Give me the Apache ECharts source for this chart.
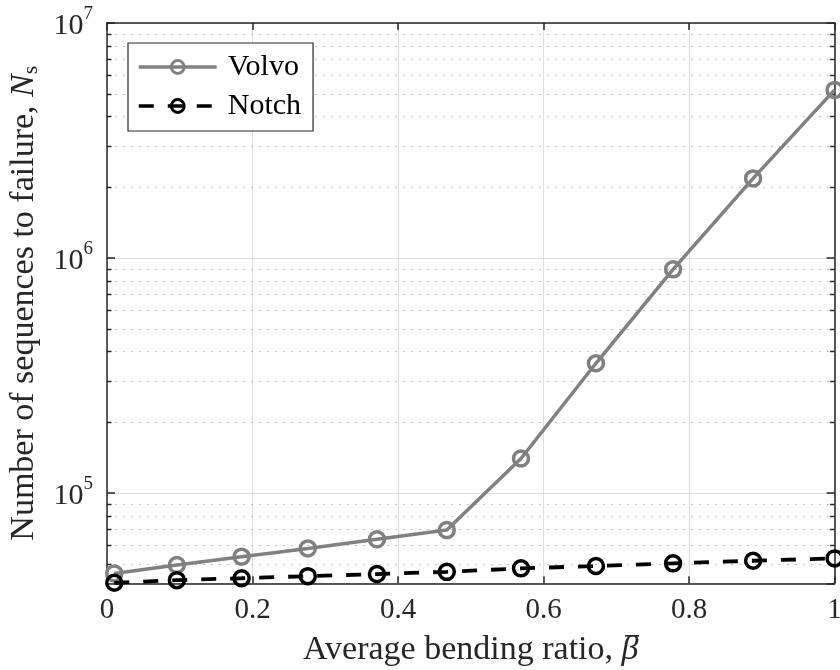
<!DOCTYPE html>
<html>
<head>
<meta charset="utf-8">
<script src="https://cdn.jsdelivr.net/npm/echarts@6/dist/echarts.min.js"></script>
<style>
html,body{margin:0;padding:0;background:#fff;overflow:hidden;}
#chart{width:840px;height:670px;}
</style>
</head>
<body>
<div id="chart"></div>
<script>
// ---- data ----
var betaValues = [0.01, 0.096, 0.185, 0.276, 0.371, 0.467, 0.569, 0.672, 0.778, 0.888, 1.0];
var volvoValues = [45400, 49300, 53500, 58000, 63400, 69400, 140000, 356000, 894000, 2180000, 5190000];
var notchValues = [41400, 42500, 43300, 44200, 45100, 46100, 47700, 48800, 50100, 51400, 52600];
var seriesNames = ['Volvo', 'Notch'];
var yMinorTicks = [50000, 60000, 70000, 80000, 90000,
  200000, 300000, 400000, 500000, 600000, 700000, 800000, 900000,
  2000000, 3000000, 4000000, 5000000, 6000000, 7000000, 8000000, 9000000];
var yMin = 41200, yMax = 10000000;
var xMin = 0, xMax = 1;

var FONT = 'Liberation Serif';
var AXC = '#262626';

function pairs(xs, ys){ return xs.map(function(x,i){ return [x, ys[i]]; }); }

// overline decoration for the beta symbol (background image of the rich token)
var barCanvas = document.createElement('canvas');
barCanvas.width = 20; barCanvas.height = 40;
(function(){ var c = barCanvas.getContext('2d'); c.fillStyle = '#262626'; c.fillRect(4, 2, 16, 2); })();
var barImage = barCanvas.toDataURL();

var chart = echarts.init(document.getElementById('chart'), null, {renderer:'canvas'});

var option = {
  animation: false,
  backgroundColor: '#fff',
  grid: {left:107, top:23, width:727.6, height:560.3, containLabel:false, outerBoundsMode:'none'},
  legend: {
    data: seriesNames,
    orient: 'vertical',
    left: 128, top: 43,
    padding: [9, 12, 10, 9],
    itemWidth: 78, itemHeight: 16, itemGap: 9,
    borderColor: AXC, borderWidth: 1.2,
    backgroundColor: '#fff',
    lineStyle: {width: 3.5},
    itemStyle: {borderWidth: 3},
    textStyle: {fontFamily: FONT, fontSize: 30, color:'#000', lineHeight: 30, padding:[0,0,0,6]}
  },
  xAxis: [{
    type:'value', min:xMin, max:xMax, interval:0.2,
    axisLine:{show:true, onZero:false, lineStyle:{color:AXC, width:1.5}},
    axisTick:{show:true, inside:true, length:7, lineStyle:{color:AXC, width:1.5}},
    axisLabel:{fontFamily:FONT, fontSize:29, color:'#262626', margin:13,
      formatter:function(v){ return String(+v.toFixed(2)); }},
    splitLine:{show:true, lineStyle:{color:'#dedede', width:1}},
    name:'Average bending ratio, {b|β}',
    nameLocation:'middle', nameGap:46,
    nameTextStyle:{fontFamily:FONT, fontSize:34, color:'#262626', lineHeight:40,
      rich:{b:{fontFamily:FONT, fontSize:34, fontStyle:'italic', color:'#262626', lineHeight:40,
        backgroundColor:{image: barImage}}}}
  },{
    type:'value', position:'top', min:xMin, max:xMax, interval:0.2,
    axisLine:{show:true, onZero:false, lineStyle:{color:AXC, width:1.5}},
    axisTick:{show:true, inside:true, length:7, lineStyle:{color:AXC, width:1.5}},
    axisLabel:{show:false}, splitLine:{show:false}
  }],
  yAxis: [{
    type:'log', logBase:10, min:yMin, max:yMax,
    axisLine:{show:true, onZero:false, lineStyle:{color:AXC, width:1.5}},
    axisTick:{show:true, inside:true, length:8, lineStyle:{color:AXC, width:1.5}},
    axisLabel:{showMinLabel:false, margin:14, color:'#262626', fontFamily:FONT, fontSize:29,
      formatter:function(v){
        var e = Math.log10(v); var r = Math.round(e);
        if (Math.abs(e-r) < 1e-6) return '{b|10}{s|' + r + '}';
        return '';
      },
      rich:{
        b:{fontFamily:FONT, fontSize:30, color:'#262626', lineHeight:36, verticalAlign:'bottom'},
        s:{fontFamily:FONT, fontSize:19, color:'#262626', lineHeight:19, verticalAlign:'top'}
      }
    },
    splitLine:{show:true, lineStyle:{color:'#dedede', width:1}},
    name:'Number of sequences to failure, {i|N}{s|s}',
    nameLocation:'middle', nameGap:60, nameRotate:90,
    nameTextStyle:{fontFamily:FONT, fontSize:34, color:'#262626', lineHeight:37, verticalAlign:'bottom',
      rich:{
        i:{fontFamily:FONT, fontSize:34, fontStyle:'italic', color:'#262626', lineHeight:37, verticalAlign:'middle'},
        s:{fontFamily:FONT, fontSize:22, color:'#262626', lineHeight:22, verticalAlign:'bottom'}
      }}
  },{
    type:'log', logBase:10, min:yMin, max:yMax, position:'right',
    axisLine:{show:true, onZero:false, lineStyle:{color:AXC, width:1.5}},
    axisTick:{show:true, inside:true, length:8, lineStyle:{color:AXC, width:1.5}},
    axisLabel:{show:false}, splitLine:{show:false}
  }],
  series: [{
    type:'custom', name:'minor', z:1, silent:true,
    xAxisIndex:0, yAxisIndex:0,
    data: yMinorTicks.map(function(v){ return [xMin, v]; }),
    renderItem:function(params, api){
      var v = api.value(1);
      var a = api.coord([xMin, v]), b = api.coord([xMax, v]);
      var y = Math.round(a[1]) + 0.5;
      return {type:'group', children:[
        {type:'line', shape:{x1:a[0], y1:y, x2:b[0], y2:y}, style:{stroke:'#c2c2c2', lineWidth:1, lineDash:[2,6]}},
        {type:'line', shape:{x1:a[0], y1:y, x2:a[0]+4.5, y2:y}, style:{stroke:AXC, lineWidth:1.5}},
        {type:'line', shape:{x1:b[0]-4.5, y1:y, x2:b[0], y2:y}, style:{stroke:AXC, lineWidth:1.5}}
      ]};
    }
  },{
    type:'line', name:seriesNames[0], z:3,
    data: pairs(betaValues, volvoValues),
    symbol:'circle', symbolSize:15,
    itemStyle:{color:'rgba(0,0,0,0)', borderColor:'#808080', borderWidth:3.5},
    lineStyle:{color:'#808080', width:3.5},
    emphasis:{disabled:true},
    clip:false
  },{
    type:'line', name:seriesNames[1], z:4,
    data: pairs(betaValues, notchValues),
    symbol:'circle', symbolSize:15,
    itemStyle:{color:'rgba(0,0,0,0)', borderColor:'#000', borderWidth:3.5},
    lineStyle:{color:'#000', width:3.8, type:[15,14]},
    emphasis:{disabled:true},
    clip:false
  }]
};
chart.setOption(option);
</script>
</body>
</html>
